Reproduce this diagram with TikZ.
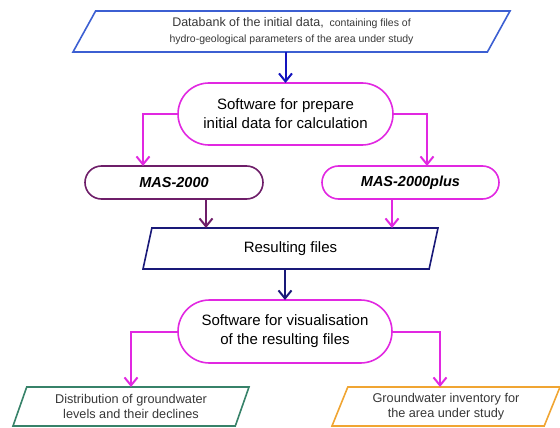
\documentclass[tikz,border=0pt]{standalone}
\usepackage{fontspec}
\setmainfont{Liberation Sans}
\usetikzlibrary{shapes.geometric,shapes.misc,arrows.meta}
\definecolor{dbblue}{RGB}{60,95,210}
\definecolor{arrblue}{RGB}{20,20,190}
\definecolor{mag}{RGB}{225,40,225}
\definecolor{purp}{RGB}{110,30,105}
\definecolor{navy}{RGB}{25,25,120}
\definecolor{grn}{RGB}{55,130,105}
\definecolor{orng}{RGB}{240,165,50}
\definecolor{txt}{RGB}{55,55,55}
\tikzset{
  para/.style={trapezium, trapezium stretches body, draw, line width=1.6pt,
    inner sep=0pt, outer sep=0pt, align=center},
  soft/.style={rounded rectangle, draw=mag, line width=1.6pt,
    inner sep=0pt, outer sep=0pt, align=center,
    font=\fontsize{15}{19}\selectfont},
  link/.style={draw, line width=2pt, -{Straight Barb[length=8pt,width=13pt]}}
}
\begin{document}
\begin{tikzpicture}[x=1pt,y=-1pt]
  \useasboundingbox (0,0) rectangle (560,428);
  % input data and preprocessing
  \node[para, draw=dbblue, text=txt, minimum width=437, minimum height=41,
    trapezium left angle=50.3, trapezium right angle=129.7,
    font=\fontsize{10.5}{16}\selectfont] (db) at (291.5,31.5)
    {{\fontsize{12.5}{16}\selectfont Databank of the initial data,}\ \
     containing files of\\
     hydro-geological parameters of the area under study};
  \node[soft, minimum width=215, minimum height=62] (prep) at (285.5,114)
    {Software for prepare\\ initial data for calculation};
  % the two models
  \node[soft, draw=purp, minimum width=178, minimum height=33,
    font=\fontsize{14.5}{17}\selectfont\bfseries\itshape] (mas) at (174,182.5)
    {MAS-2000};
  \node[soft, minimum width=177, minimum height=33,
    font=\fontsize{14.5}{17}\selectfont\bfseries\itshape] (plus) at (410.5,182.5)
    {MAS-2000plus};
  \node[para, draw=navy, minimum width=295, minimum height=41,
    trapezium left angle=57.6, trapezium right angle=122.4,
    font=\fontsize{15}{18}\selectfont] (res) at (290.5,248.5)
    {Resulting files};
  % visualisation and outputs
  \node[soft, minimum width=214, minimum height=63] (vis) at (285,331.5)
    {Software for visualisation\\ of the resulting files};
  \node[para, draw=grn, text=txt, minimum width=236, minimum height=39,
    trapezium left angle=60.6, trapezium right angle=119.4,
    font=\fontsize{12.7}{15}\selectfont] (dist) at (131,406.5)
    {Distribution of groundwater\\ levels and their declines};
  \node[para, draw=orng, text=txt, minimum width=228, minimum height=39,
    trapezium left angle=59.5, trapezium right angle=120.5,
    font=\fontsize{12.7}{15}\selectfont] (inv) at (446,406.5)
    {Groundwater inventory for\\ the area under study};
  % connectors
  \path[link, arrblue] (prep.north |- db.south) -- (prep.north);
  \path[link, mag] (prep.west) -| ([xshift=-31]mas.north);
  \path[link, mag] (prep.east) -| ([xshift=16.5]plus.north);
  \path[link, purp] ([xshift=32]mas.south) -- ([xshift=32]mas.south |- res.north);
  \path[link, mag] ([xshift=-18.5]plus.south) -- ([xshift=-18.5]plus.south |- res.north);
  \path[link, navy] (vis.north |- res.south) -- (vis.north);
  \path[link, mag] (vis.west) -| (dist.north);
  \path[link, mag] (vis.east) -| ([xshift=-6]inv.north);
\end{tikzpicture}
\end{document}
